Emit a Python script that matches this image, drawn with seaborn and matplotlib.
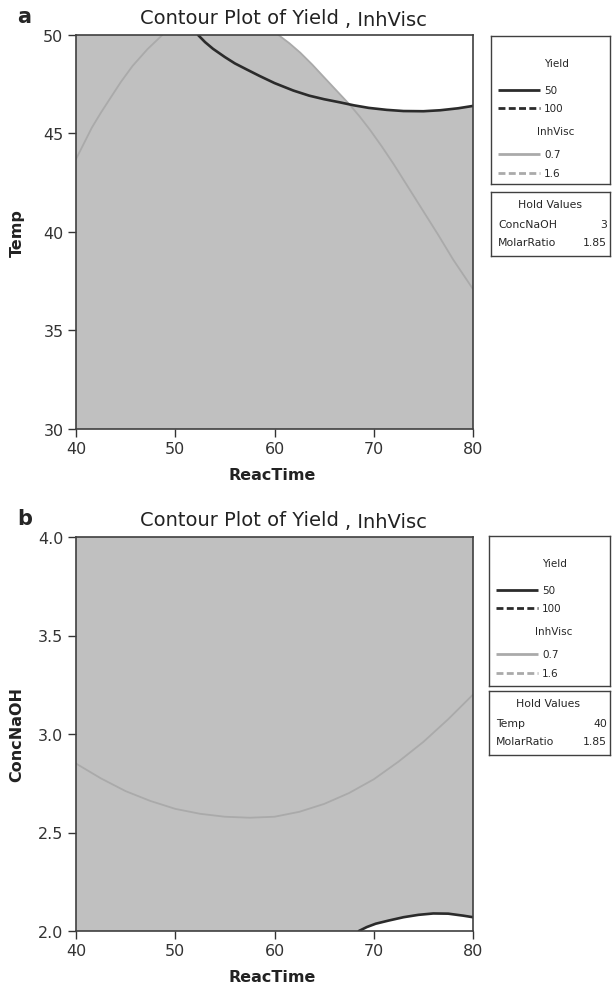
import matplotlib
matplotlib.use('Agg')
import matplotlib.pyplot as plt
import seaborn as sns

# panel a: Temp vs ReacTime, hold ConcNaOH=3, MolarRatio=1.85
yield_a_x = [52.3, 53.0, 53.8, 55.0, 56.0, 57.2, 58.5, 60.0, 61.9, 63.5, 65.0,
             66.6, 68.0, 69.5, 71.3, 73.0, 75.0, 76.7, 78.5, 80.0]
yield_a_y = [50.0, 49.64, 49.3, 48.88, 48.56, 48.25, 47.92, 47.56, 47.18, 46.92, 46.74,
             46.58, 46.43, 46.3, 46.2, 46.14, 46.13, 46.18, 46.28, 46.4]
visc_a_left_x = [40.0, 41.6, 42.5, 43.4, 44.5, 45.7, 47.2, 48.7]
visc_a_left_y = [43.7, 45.3, 46.05, 46.75, 47.6, 48.43, 49.28, 50.0]
visc_a_right_x = [60.4, 61.5, 62.6, 63.8, 65.0, 66.3, 67.6, 68.6, 69.6, 70.8, 72.0,
                  73.5, 75.0, 76.5, 78.0, 79.0, 80.0]
visc_a_right_y = [50.0, 49.58, 49.1, 48.5, 47.85, 47.15, 46.45, 45.85, 45.2, 44.35, 43.45,
                  42.25, 41.05, 39.85, 38.6, 37.85, 37.1]

# panel b: ConcNaOH vs ReacTime, hold Temp=40, MolarRatio=1.85
visc_b_x = [40, 42.5, 45, 47.5, 50, 52.5, 55, 57.5, 60, 62.5, 65, 67.5, 70, 72.5, 75, 77.5, 80]
visc_b_y = [2.85, 2.775, 2.71, 2.66, 2.62, 2.595, 2.58, 2.575, 2.58, 2.605, 2.645, 2.70,
            2.77, 2.86, 2.96, 3.075, 3.20]
yield_b_x = [68.5, 69.3, 70.2, 71.5, 73.0, 74.5, 76.0, 77.5, 79.0, 80.0]
yield_b_y = [2.0, 2.02, 2.037, 2.053, 2.07, 2.082, 2.089, 2.088, 2.078, 2.07]

x_ticks = [40, 50, 60, 70, 80]
temp_ticks = [30, 35, 40, 45, 50]
conc_ticks = [2.0, 2.5, 3.0, 3.5, 4.0]
legend_rows = [('Yield', '50'), ('Yield', '100'), ('InhVisc', '0.7'), ('InhVisc', '1.6')]
hold_a = [('ConcNaOH', '3'), ('MolarRatio', '1.85')]
hold_b = [('Temp', '40'), ('MolarRatio', '1.85')]

sns.set_style('ticks')
plt.rcParams['font.family'] = ['DejaVu Sans']

W, H = 612, 987
DARK = '#2b2b2b'
LIGHT = '#aaaaaa'
FILL = '#c0c0c0'
EDGE = '#404040'

fig = plt.figure(figsize=(W / 100, H / 100), dpi=100)


def px_rect(l, t, r, b):
    return [l / W, 1 - b / H, (r - l) / W, (b - t) / H]


def draw_panel(top, letter, ylabel, ylim, yticks, ylabels, lines, white_x, white_y):
    ax = fig.add_axes(px_rect(76, top, 473, top + 394))
    ax.set_facecolor(FILL)
    ax.fill(white_x, white_y, color='white', lw=0, zorder=1)
    for xs, ys, col, lw in lines:
        sns.lineplot(x=xs, y=ys, sort=False, estimator=None, color=col,
                     linewidth=lw, ax=ax, zorder=3)
    ax.set_xlim(40, 80)
    ax.set_ylim(*ylim)
    ax.set_xticks(x_ticks)
    ax.set_xticklabels([str(v) for v in x_ticks])
    ax.set_yticks(yticks)
    ax.set_yticklabels(ylabels)
    ax.tick_params(direction='out', length=6, width=1, colors='#333333',
                   labelsize=11.5, pad=3)
    for s in ax.spines.values():
        s.set_color(EDGE)
        s.set_linewidth(1.2)
        s.set_zorder(4)
    ax.set_xlabel('ReacTime', fontsize=11.5, fontweight='bold', color='#222222')
    ax.set_ylabel(ylabel, fontsize=11.5, fontweight='bold', color='#222222')
    ax.xaxis.set_label_coords(0.495, -0.096)
    ax.yaxis.set_label_coords(-0.13, 0.5)
    # title, the second part sits a touch lower like in the original
    fig.text(339 / W, 1 - (top - 12) / H, 'Contour Plot of Yield', ha='right',
             va='baseline', fontsize=14, color='#222222')
    fig.text(345 / W, 1 - (top - 10) / H, ', InhVisc', ha='left',
             va='baseline', fontsize=14, color='#222222')
    fig.text(17 / W, 1 - (top - 13) / H, letter, ha='left', va='baseline',
             fontsize=15, fontweight='bold')
    return ax


def draw_key(l, t, r, b, ht, hb, hold):
    kx = fig.add_axes(px_rect(l, t, r, b))
    kx.set_xlim(0, r - l)
    kx.set_ylim(b - t, 0)
    kx.set_xticks([])
    kx.set_yticks([])
    for s in kx.spines.values():
        s.set_color(EDGE)
        s.set_linewidth(1.0)
    kx.text(65, 27, 'Yield', ha='center', va='center', fontsize=7.5)
    kx.text(65, 95, 'InhVisc', ha='center', va='center', fontsize=7.5)
    row_y = [54, 72, 118, 137]
    for (group, val), yy in zip(legend_rows, row_y):
        col = DARK if group == 'Yield' else LIGHT
        ls = '-' if val in ('50', '0.7') else (0, (2.5, 1.2))
        kx.plot([7, 49], [yy, yy], color=col, lw=2.0, ls=ls,
                solid_capstyle='butt', dash_capstyle='butt')
        kx.text(53, yy, val, ha='left', va='center', fontsize=7.5)

    hx = fig.add_axes(px_rect(l, ht, r, hb))
    hx.set_xlim(0, r - l)
    hx.set_ylim(hb - ht, 0)
    hx.set_xticks([])
    hx.set_yticks([])
    for s in hx.spines.values():
        s.set_color(EDGE)
        s.set_linewidth(1.0)
    hx.text(59, 12, 'Hold Values', ha='center', va='center', fontsize=7.8)
    for (name, val), yy in zip(hold, [32, 50]):
        hx.text(7, yy, name, ha='left', va='center', fontsize=7.8)
        hx.text(r - l - 3, yy, val, ha='right', va='center', fontsize=7.8)


# white feasible region in panel a: right of the InhVisc branch and above the Yield curve
wa_x = [x for x in visc_a_right_x if x <= 67.6] + [x for x in yield_a_x if x > 67.6] + [80.0]
wa_y = [y for x, y in zip(visc_a_right_x, visc_a_right_y) if x <= 67.6] + \
       [y for x, y in zip(yield_a_x, yield_a_y) if x > 67.6] + [50.0]
draw_panel(36, 'a', 'Temp', (30, 50), temp_ticks, [str(v) for v in temp_ticks],
           [(visc_a_left_x, visc_a_left_y, LIGHT, 1.3),
            (visc_a_right_x, visc_a_right_y, LIGHT, 1.3),
            (yield_a_x, yield_a_y, DARK, 1.9)],
           wa_x, wa_y)
draw_key(491, 37, 610, 185, 193, 257, hold_a)

# white region in panel b: below the Yield curve at the bottom right
wb_x = yield_b_x + [80.0]
wb_y = yield_b_y + [2.0]
draw_panel(538, 'b', 'ConcNaOH', (2.0, 4.0), conc_ticks, ['%.1f' % v for v in conc_ticks],
           [(visc_b_x, visc_b_y, LIGHT, 1.3),
            (yield_b_x, yield_b_y, DARK, 1.9)],
           wb_x, wb_y)
draw_key(489, 537, 610, 687, 692, 756, hold_b)

fig.savefig('out.png', dpi=100)
